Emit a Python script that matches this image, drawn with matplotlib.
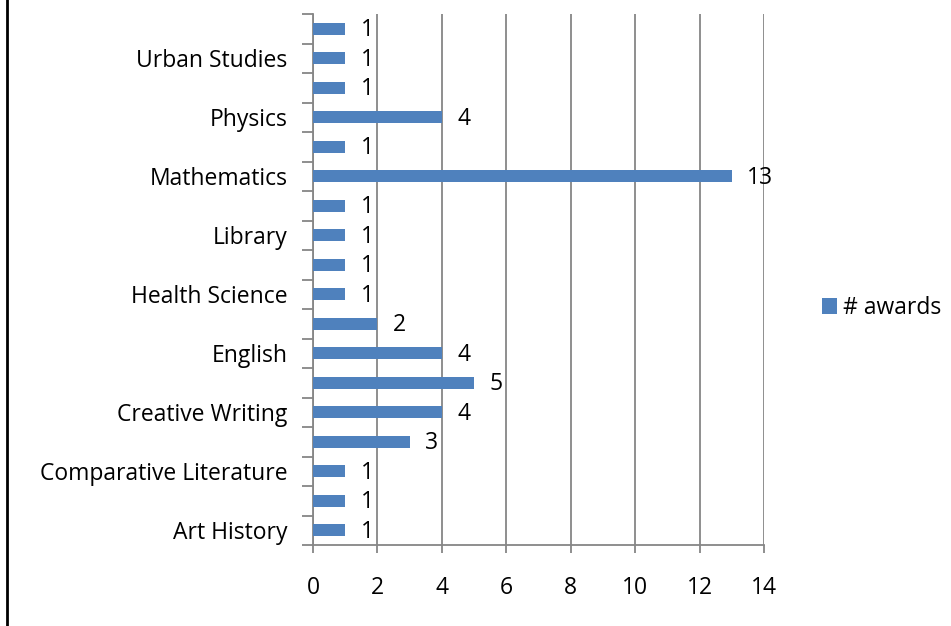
import matplotlib.pyplot as plt
from matplotlib.lines import Line2D

# categories bottom -> top; only every other label is shown on the chart
categories = ['Art History', '', 'Comparative Literature', '', 'Creative Writing', '',
              'English', '', 'Health Science', '', 'Library', '', 'Mathematics', '',
              'Physics', '', 'Urban Studies', '']
awards = [1, 1, 1, 3, 4, 5, 4, 2, 1, 1, 1, 1, 13, 1, 4, 1, 1, 1]
xticks = [0, 2, 4, 6, 8, 10, 12, 14]

plt.rcParams['font.family'] = ['Open Sans', 'DejaVu Sans']
fs = 16.5
bar_color = '#4F81BD'
grid_color = '#868686'

fig = plt.figure(figsize=(9.51, 6.26), dpi=100)
ax = fig.add_axes([313 / 951, 1 - 545 / 626, 451 / 951, 531 / 626])

pos = list(range(len(categories)))
ax.barh(pos, awards, height=0.42, color=bar_color, label='# awards', zorder=3)

for p, v in zip(pos, awards):
    ax.annotate(str(v), (v, p), xytext=(11, -1), textcoords='offset points',
                ha='left', va='center', fontsize=fs, zorder=4)

ax.set_xlim(0, 14)
ax.set_ylim(-0.5, len(categories) - 0.5)
ax.set_xticks(xticks)
ax.set_xticklabels([str(t) for t in xticks], fontsize=fs)
ax.tick_params(axis='x', length=6, width=1.3, color=grid_color, pad=16)
ax.xaxis.grid(True, color=grid_color, linewidth=1.3, zorder=0)

ax.set_yticks(pos)
ax.set_yticklabels(categories, fontsize=fs)
ax.tick_params(axis='y', which='major', length=0, pad=18.5)
ax.set_yticks([p - 0.5 for p in pos] + [len(categories) - 0.5], minor=True)
ax.tick_params(axis='y', which='minor', length=8, width=1.3, color=grid_color)

for s in ['top', 'right']:
    ax.spines[s].set_visible(False)
for s in ['left', 'bottom']:
    ax.spines[s].set_color(grid_color)
    ax.spines[s].set_linewidth(1.3)

ax.legend(loc='center left', bbox_to_anchor=(811 / 951, 1 - 308 / 626),
          bbox_transform=fig.transFigure, frameon=False, fontsize=fs,
          handlelength=0.65, handleheight=0.65, handletextpad=0.25, borderpad=0)

fig.add_artist(Line2D([7 / 951, 7 / 951], [0, 1], transform=fig.transFigure,
                      color='black', linewidth=2))

fig.savefig('out.png', dpi=100)
